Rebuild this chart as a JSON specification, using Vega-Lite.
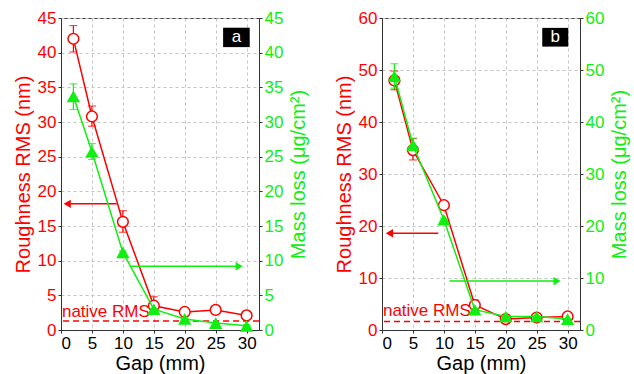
{
  "$schema": "https://vega.github.io/schema/vega-lite/v6.json",
  "padding": {"left": 12, "top": 8, "right": 2, "bottom": 2},
  "spacing": 23,
  "datasets": {
    "main": [
      {"panel": "a", "gap": 2, "rms": 42.0, "rlo": 40.1, "rhi": 43.9, "mass": 33.7, "mlo": 31.8, "mhi": 35.5},
      {"panel": "a", "gap": 5, "rms": 30.8, "rlo": 29.4, "rhi": 32.3, "mass": 25.7, "mlo": 24.6, "mhi": 26.9},
      {"panel": "a", "gap": 10, "rms": 15.6, "rlo": 14.1, "rhi": 17.2, "mass": 11.2, "mlo": 11.0, "mhi": 11.4},
      {"panel": "a", "gap": 15, "rms": 3.5, "rlo": 2.7, "rhi": 4.8, "mass": 3.0, "mlo": 2.9, "mhi": 3.1},
      {"panel": "a", "gap": 20, "rms": 2.6, "rlo": 2.2, "rhi": 3.0, "mass": 1.6, "mlo": 1.5, "mhi": 1.7},
      {"panel": "a", "gap": 25, "rms": 2.9, "rlo": 2.5, "rhi": 3.3, "mass": 1.0, "mlo": 0.9, "mhi": 1.1},
      {"panel": "a", "gap": 30, "rms": 2.1, "rlo": 1.7, "rhi": 2.4, "mass": 0.6, "mlo": 0.5, "mhi": 0.7},
      {"panel": "b", "gap": 2, "rms": 48.0, "rlo": 46.2, "rhi": 49.8, "mass": 48.8, "mlo": 46.5, "mhi": 51.2},
      {"panel": "b", "gap": 5, "rms": 34.6, "rlo": 32.7, "rhi": 36.8, "mass": 35.6, "mlo": 34.5, "mhi": 36.9},
      {"panel": "b", "gap": 10, "rms": 24.0, "rlo": 23.7, "rhi": 24.3, "mass": 21.2, "mlo": 20.9, "mhi": 21.5},
      {"panel": "b", "gap": 15, "rms": 4.8, "rlo": 3.9, "rhi": 5.8, "mass": 3.9, "mlo": 3.7, "mhi": 4.1},
      {"panel": "b", "gap": 20, "rms": 2.1, "rlo": 1.9, "rhi": 2.3, "mass": 2.6, "mlo": 2.5, "mhi": 2.7},
      {"panel": "b", "gap": 25, "rms": 2.4, "rlo": 2.2, "rhi": 2.6, "mass": 2.6, "mlo": 2.5, "mhi": 2.7},
      {"panel": "b", "gap": 30, "rms": 2.6, "rlo": 2.4, "rhi": 2.8, "mass": 2.1, "mlo": 2.0, "mhi": 2.2}
    ],
    "notesA": [{"native": 1.3, "tx": 0.15, "ty": 1.9, "label": "native RMS", "rx1": 9.0, "rx2": 1.0, "ry": 18.2, "rtip": 1.0, "gx1": 11.3, "gx2": 28.8, "gy": 9.2, "gtip": 28.8, "bx1": 26.2, "bx2": 30.5, "by1": 40.8, "by2": 43.6, "bx": 28.35, "by": 42.2, "tag": "a"}],
    "notesB": [{"native": 1.65, "tx": 0.15, "ty": 2.7, "label": "native RMS", "rx1": 9.1, "rx2": 1.2, "ry": 18.6, "rtip": 1.2, "gx1": 10.9, "gx2": 28.3, "gy": 9.4, "gtip": 28.3, "bx1": 25.9, "bx2": 30.1, "by1": 54.5, "by2": 58.1, "bx": 28.0, "by": 56.3, "tag": "b"}]
  },
  "hconcat": [
    {
      "width": 198, "height": 312,
      "resolve": {"scale": {"y": "independent"}},
      "layer": [
        {
          "layer": [
            {
              "data": {"name": "main"},
              "transform": [{"filter": "datum.panel == 'a'"}],
              "mark": {"type": "line", "color": "red", "strokeWidth": 1.5},
              "encoding": {
                "x": {"field": "gap", "type": "quantitative", "scale": {"domain": [0, 32], "nice": false}, "title": "Gap (mm)",
                  "axis": {"values": [0, 5, 10, 15, 20, 25, 30], "tickCount": 20, "grid": true, "labelColor": "black", "titleColor": "black", "titlePadding": 2}},
                "y": {"field": "rms", "type": "quantitative", "scale": {"domain": [0, 45], "nice": false}, "title": "Roughness RMS (nm)",
                  "axis": {"orient": "left", "values": [0, 5, 10, 15, 20, 25, 30, 35, 40, 45], "tickCount": 20, "grid": true, "labelColor": "red", "titleColor": "red"}}
              }
            },
            {
              "data": {"name": "main"},
              "transform": [{"filter": "datum.panel == 'a'"}],
              "mark": {"type": "errorbar", "color": "red", "ticks": {"size": 8, "color": "red"}, "thickness": 1.2},
              "encoding": {
                "x": {"field": "gap", "type": "quantitative", "title": "Gap (mm)"},
                "y": {"field": "rlo", "type": "quantitative", "title": "Roughness RMS (nm)"},
                "y2": {"field": "rhi"}
              }
            },
            {
              "data": {"name": "main"},
              "transform": [{"filter": "datum.panel == 'a'"}],
              "mark": {"type": "point", "shape": "circle", "filled": true, "fill": "white", "stroke": "red", "strokeWidth": 1.5, "size": 115, "opacity": 1},
              "encoding": {
                "x": {"field": "gap", "type": "quantitative", "title": "Gap (mm)"},
                "y": {"field": "rms", "type": "quantitative", "title": "Roughness RMS (nm)"}
              }
            },
            {
              "data": {"name": "notesA"},
              "mark": {"type": "rule", "color": "red", "strokeDash": [6, 4], "strokeWidth": 1.5},
              "encoding": {"y": {"field": "native", "type": "quantitative", "title": "Roughness RMS (nm)"}}
            },
            {
              "data": {"name": "notesA"},
              "mark": {"type": "text", "color": "red", "fontSize": 17, "align": "left", "baseline": "alphabetic"},
              "encoding": {
                "x": {"field": "tx", "type": "quantitative", "title": "Gap (mm)"},
                "y": {"field": "ty", "type": "quantitative", "title": "Roughness RMS (nm)"},
                "text": {"field": "label"}
              }
            },
            {
              "data": {"name": "notesA"},
              "mark": {"type": "rule", "color": "red", "strokeWidth": 1.5},
              "encoding": {
                "x": {"field": "rx1", "type": "quantitative", "title": "Gap (mm)"},
                "x2": {"field": "rx2"},
                "y": {"field": "ry", "type": "quantitative", "title": "Roughness RMS (nm)"}
              }
            },
            {
              "data": {"name": "notesA"},
              "mark": {"type": "point", "shape": "triangle-left", "filled": true, "color": "red", "size": 70, "opacity": 1},
              "encoding": {
                "x": {"field": "rtip", "type": "quantitative", "title": "Gap (mm)"},
                "y": {"field": "ry", "type": "quantitative", "title": "Roughness RMS (nm)"}
              }
            },
            {
              "data": {"name": "notesA"},
              "mark": {"type": "rect", "color": "black"},
              "encoding": {
                "x": {"field": "bx1", "type": "quantitative", "title": "Gap (mm)"},
                "x2": {"field": "bx2"},
                "y": {"field": "by1", "type": "quantitative", "title": "Roughness RMS (nm)"},
                "y2": {"field": "by2"}
              }
            },
            {
              "data": {"name": "notesA"},
              "mark": {"type": "text", "color": "white", "fontSize": 17, "align": "center", "baseline": "middle"},
              "encoding": {
                "x": {"field": "bx", "type": "quantitative", "title": "Gap (mm)"},
                "y": {"field": "by", "type": "quantitative", "title": "Roughness RMS (nm)"},
                "text": {"field": "tag"}
              }
            }
          ]
        },
        {
          "layer": [
            {
              "data": {"name": "main"},
              "transform": [{"filter": "datum.panel == 'a'"}],
              "mark": {"type": "line", "color": "#11ee11", "strokeWidth": 1.5},
              "encoding": {
                "x": {"field": "gap", "type": "quantitative", "title": "Gap (mm)"},
                "y": {"field": "mass", "type": "quantitative", "scale": {"domain": [0, 45], "nice": false}, "title": "Mass loss (μg/cm²)",
                  "axis": {"orient": "right", "values": [0, 5, 10, 15, 20, 25, 30, 35, 40, 45], "tickCount": 20, "grid": false, "labelColor": "#11ee11", "titleColor": "#11ee11", "titleAngle": 270, "titleBaseline": "top", "titlePadding": 6}}
              }
            },
            {
              "data": {"name": "main"},
              "transform": [{"filter": "datum.panel == 'a'"}],
              "mark": {"type": "errorbar", "color": "#11ee11", "ticks": {"size": 8, "color": "#11ee11"}, "thickness": 1.2},
              "encoding": {
                "x": {"field": "gap", "type": "quantitative", "title": "Gap (mm)"},
                "y": {"field": "mlo", "type": "quantitative", "title": "Mass loss (μg/cm²)"},
                "y2": {"field": "mhi"}
              }
            },
            {
              "data": {"name": "main"},
              "transform": [{"filter": "datum.panel == 'a'"}],
              "mark": {"type": "point", "shape": "triangle-up", "filled": true, "color": "#11ee11", "size": 180, "opacity": 1},
              "encoding": {
                "x": {"field": "gap", "type": "quantitative", "title": "Gap (mm)"},
                "y": {"field": "mass", "type": "quantitative", "title": "Mass loss (μg/cm²)"}
              }
            },
            {
              "data": {"name": "notesA"},
              "mark": {"type": "rule", "color": "#11ee11", "strokeWidth": 1.5},
              "encoding": {
                "x": {"field": "gx1", "type": "quantitative", "title": "Gap (mm)"},
                "x2": {"field": "gx2"},
                "y": {"field": "gy", "type": "quantitative", "title": "Mass loss (μg/cm²)"}
              }
            },
            {
              "data": {"name": "notesA"},
              "mark": {"type": "point", "shape": "triangle-right", "filled": true, "color": "#11ee11", "size": 70, "opacity": 1},
              "encoding": {
                "x": {"field": "gtip", "type": "quantitative", "title": "Gap (mm)"},
                "y": {"field": "gy", "type": "quantitative", "title": "Mass loss (μg/cm²)"}
              }
            }
          ]
        }
      ]
    },
    {
      "width": 198, "height": 312,
      "resolve": {"scale": {"y": "independent"}},
      "layer": [
        {
          "layer": [
            {
              "data": {"name": "main"},
              "transform": [{"filter": "datum.panel == 'b'"}],
              "mark": {"type": "line", "color": "red", "strokeWidth": 1.5},
              "encoding": {
                "x": {"field": "gap", "type": "quantitative", "scale": {"domain": [0, 32], "nice": false}, "title": "Gap (mm)",
                  "axis": {"values": [0, 5, 10, 15, 20, 25, 30], "tickCount": 20, "grid": true, "labelColor": "black", "titleColor": "black", "titlePadding": 2}},
                "y": {"field": "rms", "type": "quantitative", "scale": {"domain": [0, 60], "nice": false}, "title": "Roughness RMS (nm)",
                  "axis": {"orient": "left", "values": [0, 10, 20, 30, 40, 50, 60], "tickCount": 20, "grid": true, "labelColor": "red", "titleColor": "red"}}
              }
            },
            {
              "data": {"name": "main"},
              "transform": [{"filter": "datum.panel == 'b'"}],
              "mark": {"type": "errorbar", "color": "red", "ticks": {"size": 8, "color": "red"}, "thickness": 1.2},
              "encoding": {
                "x": {"field": "gap", "type": "quantitative", "title": "Gap (mm)"},
                "y": {"field": "rlo", "type": "quantitative", "title": "Roughness RMS (nm)"},
                "y2": {"field": "rhi"}
              }
            },
            {
              "data": {"name": "main"},
              "transform": [{"filter": "datum.panel == 'b'"}],
              "mark": {"type": "point", "shape": "circle", "filled": true, "fill": "white", "stroke": "red", "strokeWidth": 1.5, "size": 115, "opacity": 1},
              "encoding": {
                "x": {"field": "gap", "type": "quantitative", "title": "Gap (mm)"},
                "y": {"field": "rms", "type": "quantitative", "title": "Roughness RMS (nm)"}
              }
            },
            {
              "data": {"name": "notesB"},
              "mark": {"type": "rule", "color": "red", "strokeDash": [6, 4], "strokeWidth": 1.5},
              "encoding": {"y": {"field": "native", "type": "quantitative", "title": "Roughness RMS (nm)"}}
            },
            {
              "data": {"name": "notesB"},
              "mark": {"type": "text", "color": "red", "fontSize": 17, "align": "left", "baseline": "alphabetic"},
              "encoding": {
                "x": {"field": "tx", "type": "quantitative", "title": "Gap (mm)"},
                "y": {"field": "ty", "type": "quantitative", "title": "Roughness RMS (nm)"},
                "text": {"field": "label"}
              }
            },
            {
              "data": {"name": "notesB"},
              "mark": {"type": "rule", "color": "red", "strokeWidth": 1.5},
              "encoding": {
                "x": {"field": "rx1", "type": "quantitative", "title": "Gap (mm)"},
                "x2": {"field": "rx2"},
                "y": {"field": "ry", "type": "quantitative", "title": "Roughness RMS (nm)"}
              }
            },
            {
              "data": {"name": "notesB"},
              "mark": {"type": "point", "shape": "triangle-left", "filled": true, "color": "red", "size": 70, "opacity": 1},
              "encoding": {
                "x": {"field": "rtip", "type": "quantitative", "title": "Gap (mm)"},
                "y": {"field": "ry", "type": "quantitative", "title": "Roughness RMS (nm)"}
              }
            },
            {
              "data": {"name": "notesB"},
              "mark": {"type": "rect", "color": "black"},
              "encoding": {
                "x": {"field": "bx1", "type": "quantitative", "title": "Gap (mm)"},
                "x2": {"field": "bx2"},
                "y": {"field": "by1", "type": "quantitative", "title": "Roughness RMS (nm)"},
                "y2": {"field": "by2"}
              }
            },
            {
              "data": {"name": "notesB"},
              "mark": {"type": "text", "color": "white", "fontSize": 17, "align": "center", "baseline": "middle"},
              "encoding": {
                "x": {"field": "bx", "type": "quantitative", "title": "Gap (mm)"},
                "y": {"field": "by", "type": "quantitative", "title": "Roughness RMS (nm)"},
                "text": {"field": "tag"}
              }
            }
          ]
        },
        {
          "layer": [
            {
              "data": {"name": "main"},
              "transform": [{"filter": "datum.panel == 'b'"}],
              "mark": {"type": "line", "color": "#11ee11", "strokeWidth": 1.5},
              "encoding": {
                "x": {"field": "gap", "type": "quantitative", "title": "Gap (mm)"},
                "y": {"field": "mass", "type": "quantitative", "scale": {"domain": [0, 60], "nice": false}, "title": "Mass loss (μg/cm²)",
                  "axis": {"orient": "right", "values": [0, 10, 20, 30, 40, 50, 60], "tickCount": 20, "grid": false, "labelColor": "#11ee11", "titleColor": "#11ee11", "titleAngle": 270, "titleBaseline": "top", "titlePadding": 6}}
              }
            },
            {
              "data": {"name": "main"},
              "transform": [{"filter": "datum.panel == 'b'"}],
              "mark": {"type": "errorbar", "color": "#11ee11", "ticks": {"size": 8, "color": "#11ee11"}, "thickness": 1.2},
              "encoding": {
                "x": {"field": "gap", "type": "quantitative", "title": "Gap (mm)"},
                "y": {"field": "mlo", "type": "quantitative", "title": "Mass loss (μg/cm²)"},
                "y2": {"field": "mhi"}
              }
            },
            {
              "data": {"name": "main"},
              "transform": [{"filter": "datum.panel == 'b'"}],
              "mark": {"type": "point", "shape": "triangle-up", "filled": true, "color": "#11ee11", "size": 180, "opacity": 1},
              "encoding": {
                "x": {"field": "gap", "type": "quantitative", "title": "Gap (mm)"},
                "y": {"field": "mass", "type": "quantitative", "title": "Mass loss (μg/cm²)"}
              }
            },
            {
              "data": {"name": "notesB"},
              "mark": {"type": "rule", "color": "#11ee11", "strokeWidth": 1.5},
              "encoding": {
                "x": {"field": "gx1", "type": "quantitative", "title": "Gap (mm)"},
                "x2": {"field": "gx2"},
                "y": {"field": "gy", "type": "quantitative", "title": "Mass loss (μg/cm²)"}
              }
            },
            {
              "data": {"name": "notesB"},
              "mark": {"type": "point", "shape": "triangle-right", "filled": true, "color": "#11ee11", "size": 70, "opacity": 1},
              "encoding": {
                "x": {"field": "gtip", "type": "quantitative", "title": "Gap (mm)"},
                "y": {"field": "gy", "type": "quantitative", "title": "Mass loss (μg/cm²)"}
              }
            }
          ]
        }
      ]
    }
  ],
  "config": {
    "font": "Liberation Sans",
    "background": "white",
    "view": {"stroke": "#444", "strokeWidth": 1},
    "axis": {
      "labelFont": "Liberation Sans", "titleFont": "Liberation Sans",
      "labelFontSize": 17, "titleFontSize": 20, "titleFontWeight": "normal",
      "tickSize": 3, "tickColor": "#333", "domainColor": "#333",
      "gridDash": [3, 3], "gridColor": "#c4c4c4", "labelPadding": 2, "titlePadding": 4
    }
  }
}
